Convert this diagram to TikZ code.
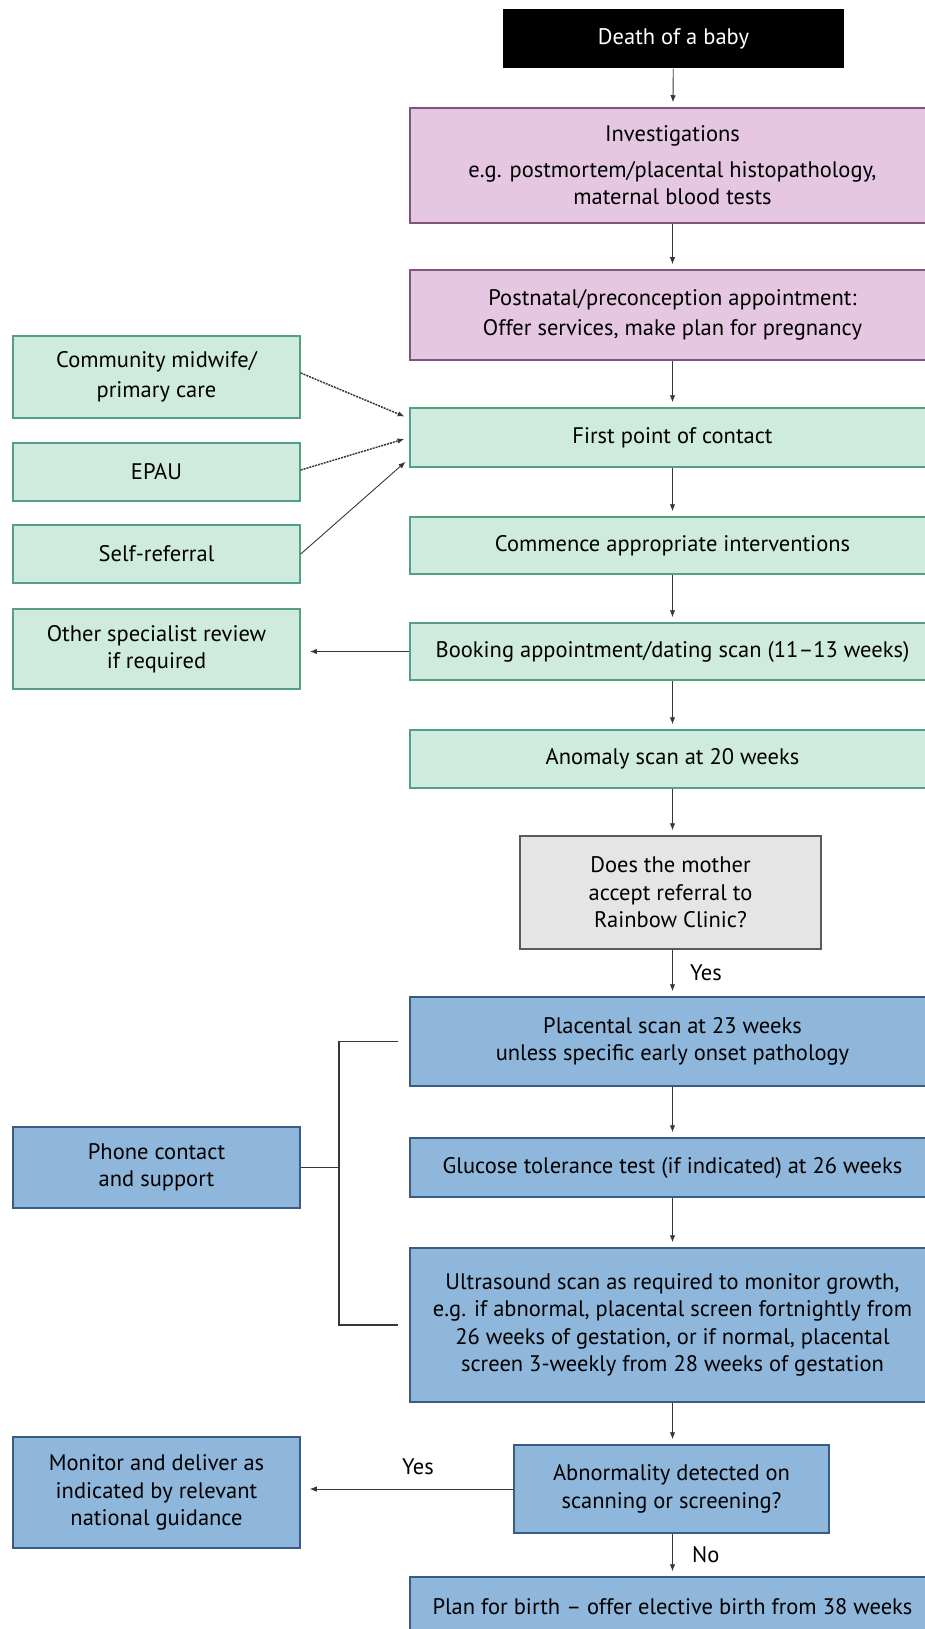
\documentclass[tikz,border=0pt]{standalone}
\usepackage{fontspec}
\setmainfont{PT Sans}
\usetikzlibrary{arrows.meta}

\definecolor{pinkfill}{RGB}{230,199,226}
\definecolor{pinkline}{RGB}{128,84,124}
\definecolor{greenfill}{RGB}{206,235,221}
\definecolor{greenline}{RGB}{84,160,132}
\definecolor{bluefill}{RGB}{142,183,219}
\definecolor{blueline}{RGB}{58,92,130}
\definecolor{greyfill}{RGB}{229,229,229}
\definecolor{greyline}{RGB}{90,90,90}
\definecolor{linkgrey}{RGB}{55,55,55}

\begin{document}
\begin{tikzpicture}[x=1pt,y=-1pt,
  box/.style={rectangle, align=center, inner sep=0pt, line width=1.5pt,
    font=\fontsize{22.5}{27.5}\selectfont},
  mainbox/.style={box, minimum width=525pt},
  sidebox/.style={box, minimum width=287pt},
  pinkbox/.style={fill=pinkfill, draw=pinkline},
  greenbox/.style={fill=greenfill, draw=greenline},
  bluebox/.style={fill=bluefill, draw=blueline},
  greybox/.style={fill=greyfill, draw=greyline},
  link/.style={draw=linkgrey, line width=0.9pt, -{Latex[length=7pt,width=5.5pt]}, shorten >=5pt},
  dotlink/.style={link, line width=1.5pt, dash pattern=on 2pt off 1pt},
  bracket/.style={draw=linkgrey, line width=1.5pt},
  answer/.style={font=\fontsize{22.5}{27}\selectfont, inner sep=0pt}]
\clip (0,0) rectangle (925,1629);
% main column
\node[box, fill=black, text=white, minimum width=341pt, minimum height=59pt] (death) at (673.5,38.5) {Death of a baby};
\node[mainbox, pinkbox, minimum height=115pt] (invest) at (672.5,165.5) {Investigations\\[8pt] e.g. postmortem/placental histopathology,\\ maternal blood tests};
\node[mainbox, pinkbox, minimum height=90pt] (postnatal) at (672.5,315) {Postnatal/preconception appointment:\\[3pt] Offer services, make plan for pregnancy};
\node[mainbox, greenbox, minimum height=59pt] (first) at (672.5,437.5) {First point of contact};
\node[mainbox, greenbox, minimum height=57pt] (commence) at (672.5,545.5) {Commence appropriate interventions};
\node[mainbox, greenbox, minimum height=57pt] (booking) at (672.5,651.5) {Booking appointment/dating scan (11--13 weeks)};
\node[mainbox, greenbox, minimum height=58pt] (anomaly) at (672.5,759) {Anomaly scan at 20 weeks};
\node[box, greybox, minimum width=301pt, minimum height=113pt] (accept) at (670.5,892.5) {Does the mother\\ accept referral to\\ Rainbow Clinic?};
\node[mainbox, bluebox, minimum height=89pt] (placental) at (672.5,1041.5) {Placental scan at 23 weeks\\ unless specific early onset pathology};
\node[mainbox, bluebox, minimum height=59pt] (glucose) at (672.5,1167.5) {Glucose tolerance test (if indicated) at 26 weeks};
\node[mainbox, bluebox, minimum height=154pt] (ultra) at (672.5,1325) {Ultrasound scan as required to monitor growth,\\ e.g. if abnormal, placental screen fortnightly from\\ 26 weeks of gestation, or if normal, placental\\ screen 3-weekly from 28 weeks of gestation};
\node[box, bluebox, minimum width=315pt, minimum height=88pt] (abnormal) at (671.5,1489) {Abnormality detected on\\ scanning or screening?};
\node[mainbox, bluebox, minimum height=60pt] (birth) at (672.5,1607) {Plan for birth -- offer elective birth from 38 weeks};
% side column
\node[sidebox, greenbox, minimum height=82pt] (community) at (156.5,377) {Community midwife/\\[3pt] primary care};
\node[sidebox, greenbox, minimum height=58pt] (epau) at (156.5,472) {EPAU};
\node[sidebox, greenbox, minimum height=58pt] (selfref) at (156.5,554) {Self-referral};
\node[sidebox, greenbox, minimum height=80pt] (specialist) at (156.5,649) {Other specialist review\\ if required};
\node[sidebox, bluebox, minimum height=81pt] (phone) at (156.5,1167.5) {Phone contact\\ and support};
\node[sidebox, bluebox, minimum height=111pt] (monitor) at (156.5,1492.5) {Monitor and deliver as\\ indicated by relevant\\ national guidance};
% connectors
\draw[link] (death) -- (invest);
\draw[link] (invest) -- (postnatal);
\draw[link] (postnatal) -- (first);
\draw[link] (first) -- (commence);
\draw[link] (commence) -- (booking);
\draw[link] (booking) -- (anomaly);
\draw[link] (anomaly.south) -- (anomaly.south |- accept.north);
\draw[link] (accept.south -| placental.north) -- (placental.north);
\node[answer, anchor=west] (yesaccept) at (690,973) {Yes};
\draw[link] (placental) -- (glucose);
\draw[link] (glucose) -- (ultra);
\draw[link] (ultra.south) -- (ultra.south |- abnormal.north);
\draw[link] (abnormal.south -| birth.north) -- (birth.north);
\node[answer, anchor=west] (noabnormal) at (692,1555) {No};
\draw[dotlink] ([yshift=4pt]community.east) -- ([yshift=19pt]first.west);
\draw[dotlink] ([yshift=2pt]epau.east) -- ([yshift=0pt]first.west);
\draw[link] (selfref.east) -- ([yshift=-21pt]first.west);
\draw[link, line width=1.4pt, shorten >=9pt] (booking.west) -- (booking.west -| specialist.east);
\draw[link, shorten >=9pt] (abnormal.west) -- (abnormal.west -| monitor.east);
\node[answer] (yesabnormal) at (418,1467) {Yes};
% phone bracket
\coordinate (bar) at (339,1325);
\draw[bracket] ([xshift=-11pt]placental.west) -| (bar) |- ([xshift=-11pt]ultra.west);
\draw[bracket] (phone.east) -- (phone.east -| bar);
\end{tikzpicture}
\end{document}
